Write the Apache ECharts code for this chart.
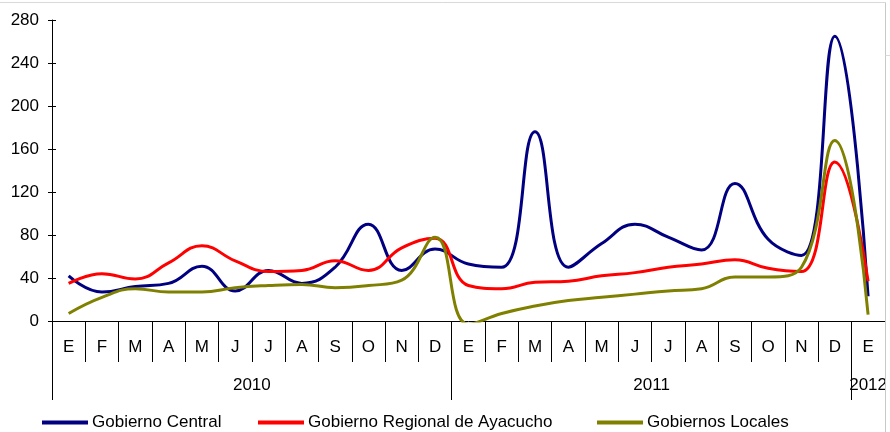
<!DOCTYPE html>
<html>
<head>
<meta charset="utf-8">
<script src="https://cdn.jsdelivr.net/npm/echarts@6/dist/echarts.min.js"></script>
<style>
html,body{margin:0;padding:0;background:#fff;}
#c{width:890px;height:432px;}
</style>
</head>
<body>
<div id="c"></div>
<script>
// ---- data ----
const months = ['E','F','M','A','M','J','J','A','S','O','N','D',
                'E','F','M','A','M','J','J','A','S','O','N','D',
                'E'];
const years = ['2010','2011','2012'];
const yTicks = [0,40,80,120,160,200,240,280];
const seriesNames = ['Gobierno Central','Gobierno Regional de Ayacucho','Gobiernos Locales'];
const gobiernoCentral = [42,27,32,35,51,28,47,35,50,90,47,67,
                         53,50,176,50,72,90,78,66,128,76,61,265,
                         23];
const gobiernoRegional = [35,44,39,54,70,56,46,47,56,47,68,77,
                          33,30,36,37,42,45,50,53,57,49,46,148,
                          37];
const gobiernosLocales = [7,22,30,27,27,31,33,34,31,33,38,78,
                          -3,7,14,19,22,25,28,30,41,41,50,168,
                          6];

const FONT = 'Arial, "Liberation Sans", sans-serif';
const catW = 833 / months.length;

const chart = echarts.init(document.getElementById('c'), null, {renderer:'canvas'});
const colors = ['#000080','#ff0000','#808000'];
const data = [gobiernoCentral, gobiernoRegional, gobiernosLocales];

const legendLefts = [42, 258, 597];

chart.setOption({
  animation:false,
  backgroundColor:'#fff',
  grid:{left:52, right:5, top:20, bottom:111, containLabel:false},
  legend: seriesNames.map((n,i)=>({
    data:[n], left:legendLefts[i], top:414, padding:0, icon:'rect', itemWidth:46, itemHeight:4,
    itemGap:0, textStyle:{fontFamily:FONT, fontSize:17, color:'#000', padding:[0,0,0,-1]}, selectedMode:false
  })),
  xAxis:[{
    type:'category', data:months, boundaryGap:true, position:'bottom',
    axisLine:{show:true, lineStyle:{color:'#000', width:1}},
    axisTick:{show:true, interval:0, length:41, lineStyle:{color:'#000', width:1}},
    axisLabel:{interval:0, margin:18, fontFamily:FONT, fontSize:17, color:'#000'},
    splitLine:{show:false}
  },{
    type:'category', data:months, boundaryGap:true, position:'bottom', offset:0,
    axisLine:{show:false},
    axisTick:{show:true, interval:(idx)=> idx % 12 === 0, length:79, lineStyle:{color:'#000', width:1}},
    axisLabel:{interval:0, margin:56, fontFamily:FONT, fontSize:17, color:'#000',
      formatter:(v, idx)=>{
        if (idx === 5) return '{s|' + years[0] + '}';
        if (idx === 17) return '{s|' + years[1] + '}';
        if (idx === 24) return years[2];
        return '';
      },
      rich:{s:{fontFamily:FONT, fontSize:17, color:'#000', padding:[0,0,0,catW]}}
    },
    splitLine:{show:false}
  }],
  yAxis:[{
    type:'value', min:yTicks[0], max:yTicks[yTicks.length-1], interval:40, position:'left',
    axisLine:{show:true, lineStyle:{color:'#000', width:1}},
    axisTick:{show:true, length:4, lineStyle:{color:'#000'}},
    axisLabel:{margin:13, fontFamily:FONT, fontSize:17, color:'#000'},
    splitLine:{show:false}
  },{
    type:'value', min:yTicks[0], max:yTicks[yTicks.length-1], interval:40, position:'left', offset:0,
    axisLine:{show:false},
    axisTick:{show:true, inside:true, length:4, lineStyle:{color:'#000'}},
    axisLabel:{show:false},
    splitLine:{show:false}
  }],
  series: seriesNames.map((n,i)=>({
    name:n, type:'line', data:data[i], smooth:0.45, symbol:'none', clip:true,
    xAxisIndex:0, yAxisIndex:0,
    lineStyle:{color:colors[i], width:3}, itemStyle:{color:colors[i]}
  })),
  graphic:[
    {type:'rect', shape:{x:885.5, y:0, width:5, height:432}, style:{fill:'#fff'}, z:100},
    {type:'line', shape:{x1:0, y1:2.5, x2:885.5, y2:2.5}, style:{stroke:'#d9d9d9', lineWidth:1}, z:101},
    {type:'line', shape:{x1:885.5, y1:2.5, x2:885.5, y2:432}, style:{stroke:'#c8c8c8', lineWidth:1}, z:101},
    {type:'line', shape:{x1:885.5, y1:55.5, x2:890, y2:55.5}, style:{stroke:'#d9d9d9', lineWidth:1}, z:101}
  ]
});
</script>
</body>
</html>
